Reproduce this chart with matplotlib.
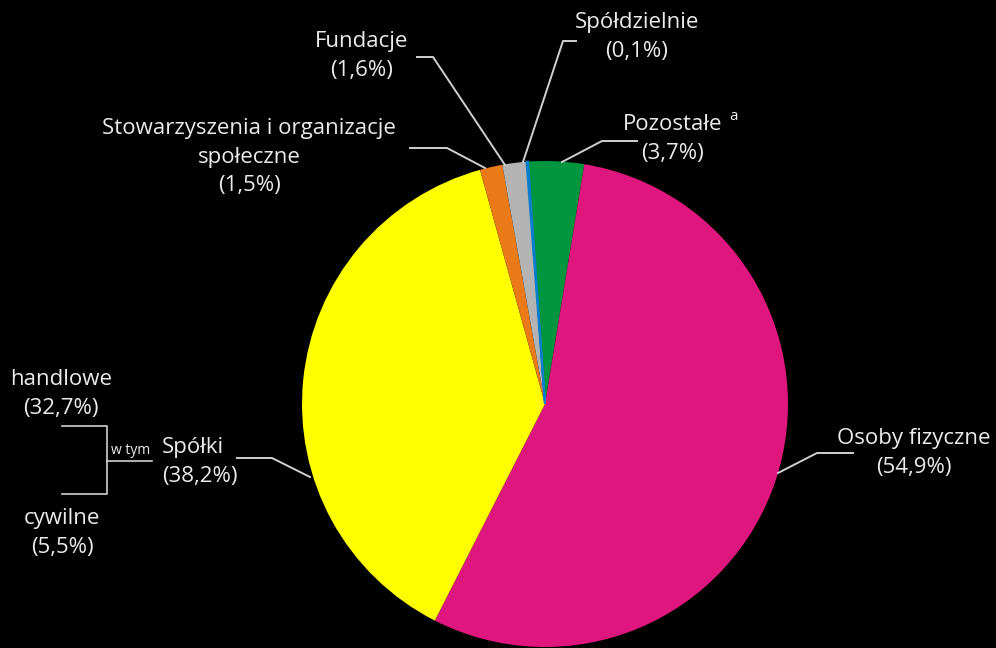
import matplotlib
matplotlib.use("Agg")
import matplotlib.pyplot as plt

# data (shares in %)
categories = ["Pozostałe", "Osoby fizyczne", "Spółki",
              "Stowarzyszenia i organizacje społeczne", "Fundacje", "Spółdzielnie"]
shares = [3.7, 54.9, 38.2, 1.5, 1.6, 0.1]
colors = ["#00953F", "#DF167E", "#FFFF00", "#E97A17", "#B3B3B3", "#0B7DCB"]
sub_labels = ["handlowe", "cywilne"]
sub_shares = [32.7, 5.5]

W, H = 996, 648
plt.rcParams["font.family"] = ["Open Sans", "DejaVu Sans"]
txt_color = "#EBEBEB"
line_color = "#D0D0D0"


def fmt(v):
    return "(" + f"{v:.1f}".replace(".", ",") + "%)"


fig = plt.figure(figsize=(W / 100, H / 100), dpi=100, facecolor="black")
ax = fig.add_axes([0, 0, 1, 1])
ax.set_facecolor("black")


def Y(y):  # pixel row -> data y
    return H - y


wedges, _ = ax.pie(shares, colors=colors, startangle=94, counterclock=False,
                   center=(545, Y(404)), radius=243, frame=True,
                   wedgeprops=dict(linewidth=0))
# make the tiny slice visible
wedges[-1].set_edgecolor(colors[-1])
wedges[-1].set_linewidth(1.5)
ax.set_xlim(0, W)
ax.set_ylim(0, H)
ax.set_aspect("equal")
ax.axis("off")

fs = 16
ls = 1.45
# label text, centre x, centre y, leader points
labels = [
    (categories[0] + "\n" + fmt(shares[0]), 673, 139, [(637, 141), (602, 141), (562, 162)]),
    (categories[1] + "\n" + fmt(shares[1]), 914, 453, [(853, 453), (817, 453), (778, 473)]),
    ("Stowarzyszenia i organizacje\nspołeczne\n" + fmt(shares[3]), 249, 157,
     [(410, 148), (447, 148), (485, 168)]),
    (categories[4] + "\n" + fmt(shares[4]), 362, 56, [(417, 57), (433, 57), (505, 165)]),
    (categories[5] + "\n" + fmt(shares[5]), 637, 37, [(576, 41), (563, 41), (523, 162)]),
]
for text, x, y, pts in labels:
    ax.text(x, Y(y), text, ha="center", va="center", color=txt_color,
            fontsize=fs, linespacing=ls)
    ax.plot([p[0] for p in pts], [Y(p[1]) for p in pts], color=line_color, lw=1.4)

# superscript for Pozostałe
ax.text(734, Y(116), "a", ha="center", va="center", color=txt_color, fontsize=11)

# Spółki label (left aligned) and leader
ax.text(162, Y(462), categories[2] + "\n" + fmt(shares[2]), ha="left", va="center",
        color=txt_color, fontsize=fs, linespacing=ls)
ax.plot([237, 272, 310], [Y(458), Y(458), Y(477)], color=line_color, lw=1.4)

# breakdown of Spółki
ax.text(61, Y(394), sub_labels[0] + "\n" + fmt(sub_shares[0]), ha="center", va="center",
        color=txt_color, fontsize=fs, linespacing=ls)
ax.text(62, Y(533), sub_labels[1] + "\n" + fmt(sub_shares[1]), ha="center", va="center",
        color=txt_color, fontsize=fs, linespacing=ls)
ax.plot([62, 107, 107, 62], [Y(426), Y(426), Y(494), Y(494)], color=line_color, lw=1.2)
ax.plot([107, 152], [Y(461), Y(461)], color=line_color, lw=1.2)
ax.text(131, Y(450), "w tym", ha="center", va="center", color=txt_color, fontsize=10)

fig.savefig("out.png", dpi=100, facecolor="black")
